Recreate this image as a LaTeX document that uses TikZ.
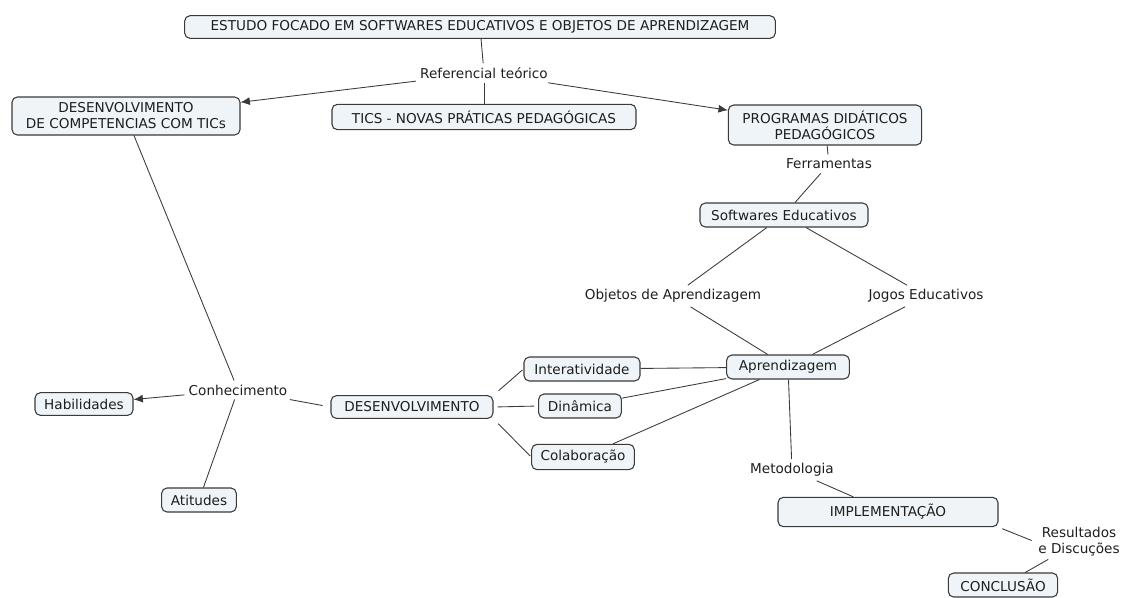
\documentclass[tikz,border=0pt]{standalone}
\usepackage{fontspec}
\setmainfont{DejaVu Sans}
\usetikzlibrary{arrows.meta}
\definecolor{boxfill}{HTML}{EEF4F7}
\definecolor{boxline}{HTML}{3A3A3A}
\definecolor{txt}{HTML}{1E1E1E}
\begin{document}
\begin{tikzpicture}[x=0.75pt,y=-0.75pt,
  every node/.style={font=\fontsize{10.2}{12}\selectfont, text=txt},
  box/.style={draw=boxline, fill=boxfill, rounded corners=4pt, line width=0.8pt, inner sep=1pt, align=center},
  lab/.style={inner sep=3pt, align=center},
  conn/.style={draw=boxline, line width=0.65pt},
  arr/.style={conn, -{Latex[length=7pt,width=6pt]}}]
\useasboundingbox (0,0) rectangle (1124,597);
% boxes
\node[box, minimum width=443pt, minimum height=17pt] (estudo) at (480,27) {ESTUDO FOCADO EM SOFTWARES EDUCATIVOS E OBJETOS DE APRENDIZAGEM};
\node[box, minimum width=171pt, minimum height=28.5pt] (comp) at (126,116) {DESENVOLVIMENTO\\DE COMPETENCIAS COM TICs};
\node[box, minimum width=228pt, minimum height=19pt] (tics) at (484,117) {TICS - NOVAS PRÁTICAS PEDAGÓGICAS};
\node[box, minimum width=145pt, minimum height=30pt] (prog) at (825,125) {PROGRAMAS DIDÁTICOS\\PEDAGÓGICOS};
\node[box, minimum width=126pt, minimum height=18pt] (soft) at (784,215) {Softwares Educativos};
\node[box, minimum width=92pt, minimum height=18pt] (aprend) at (788,367) {Aprendizagem};
\node[box, minimum width=87pt, minimum height=18pt] (inter) at (582,369) {Interatividade};
\node[box, minimum width=62pt, minimum height=18pt] (dina) at (580,406) {Dinâmica};
\node[box, minimum width=77pt, minimum height=19pt] (colab) at (583,457) {Colaboração};
\node[box, minimum width=121.5pt, minimum height=17pt] (desenv) at (412,407) {DESENVOLVIMENTO};
\node[box, minimum width=73.5pt, minimum height=17pt] (habil) at (84,404) {Habilidades};
\node[box, minimum width=56pt, minimum height=18pt] (atit) at (199,500) {Atitudes};
\node[box, minimum width=165pt, minimum height=22pt] (impl) at (888,512) {IMPLEMENTAÇÃO};
\node[box, minimum width=82pt, minimum height=18pt] (concl) at (1003,585) {CONCLUSÃO};
% linking phrases
\node[lab] (ref) at (484,73) {Referencial teórico};
\node[lab] (ferr) at (829,164) {Ferramentas};
\node[lab] (obj) at (673,296) {Objetos de Aprendizagem};
\node[lab] (jogos) at (926,296) {Jogos Educativos};
\node[lab] (conh) at (238,390) {Conhecimento};
\node[lab] (metod) at (792,470) {Metodologia};
\node[lab, inner sep=2pt] (result) at (1079,542) {Resultados\\e Discuções};
% connectors
\draw[conn] (estudo) -- (ref);
\draw[arr] (ref) -- (comp);
\draw[conn] (ref) -- (tics);
\draw[arr] (ref) -- (prog);
\draw[conn] (prog) -- (ferr);
\draw[conn] (ferr) -- (soft);
\draw[conn] (soft) -- (obj);
\draw[conn] (soft) -- (jogos);
\draw[conn] (obj) -- (aprend);
\draw[conn] (jogos) -- (aprend);
\draw[conn] (aprend) -- (inter);
\draw[conn] (aprend) -- (dina);
\draw[conn] (aprend) -- (colab);
\draw[conn] (aprend) -- (metod);
\draw[conn] (metod) -- (impl);
\draw[conn, shorten <=3pt, shorten >=3pt] (impl.south east) -- (result.west);
\draw[conn] (result) -- (concl);
\draw[conn, shorten <=5pt, shorten >=1pt] (desenv.north east) -- (inter.west);
\draw[conn, shorten <=3pt, shorten >=3pt] (desenv.east) -- (dina.west);
\draw[conn, shorten <=5pt, shorten >=1pt] (desenv.south east) -- (colab.west);
\draw[conn, shorten >=6pt] (conh) -- (desenv.west);
\draw[conn] (comp) -- (conh);
\draw[arr] (conh) -- (habil);
\draw[conn] (conh) -- (atit);
\end{tikzpicture}
\end{document}
